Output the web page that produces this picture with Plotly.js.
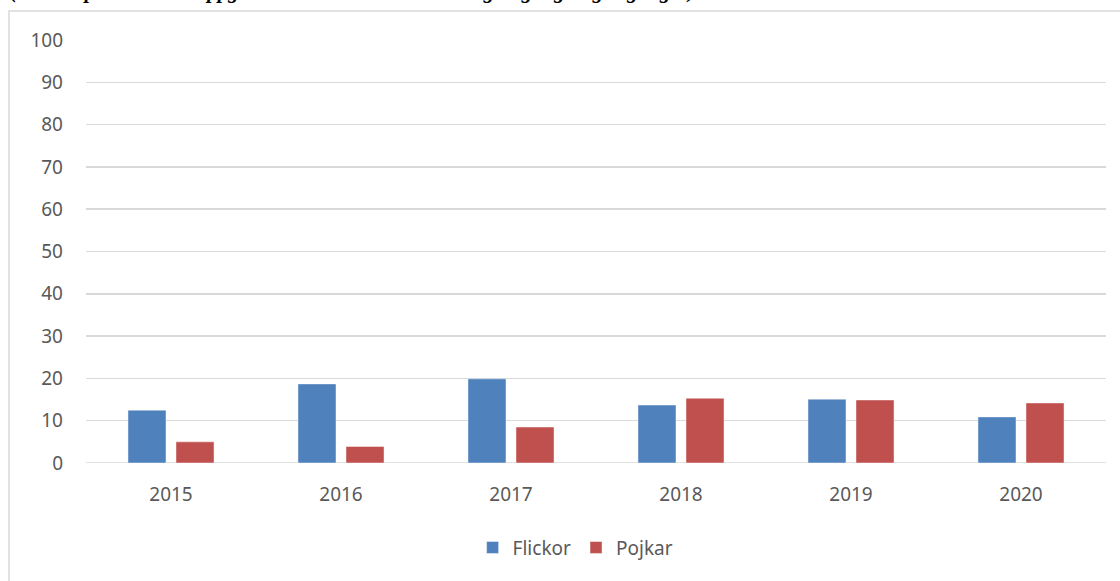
<!DOCTYPE html>
<html>
<head>
<meta charset="utf-8">
<script src="https://cdn.plot.ly/plotly-3.0.1.min.js"></script>
<style>
html,body{margin:0;padding:0;background:#fff;overflow:hidden;}
#chart{width:1120px;height:581px;}
</style>
</head>
<body>
<div id="chart"></div>
<script>
const years = ['2015','2016','2017','2018','2019','2020'];
const flickor = [12.5, 18.7, 19.9, 13.7, 15.1, 10.9];
const pojkar = [5.0, 3.9, 8.5, 15.3, 14.9, 14.2];
const yTicks = [0,10,20,30,40,50,60,70,80,90,100];
const headerText = '(Andel i procent som uppger att de har blivit utsatta någon gång/några gånger)';

const fam = 'Noto Sans, Liberation Sans, sans-serif';
const grey = '#595959';

const traces = [
  {type:'bar', name:'Flickor', x: years, y: flickor,
   marker:{color:'#4F81BD', line:{color:'rgba(255,255,255,0.45)', width:1}}, hoverinfo:'none'},
  {type:'bar', name:'Pojkar', x: years, y: pojkar,
   marker:{color:'#C0504D', line:{color:'rgba(255,255,255,0.45)', width:1}}, hoverinfo:'none'}
];

const layout = {
  width:1120, height:581,
  margin:{l:86, r:14, t:40, b:118},
  paper_bgcolor:'#fff', plot_bgcolor:'#fff',
  font:{family:fam, size:19, color:grey},
  barmode:'group', bargap:0.435, bargroupgap:0.208,
  showlegend:true,
  legend:{orientation:'h', x:0.48, y:-0.2, xanchor:'center', yanchor:'middle',
          font:{family:fam, size:19, color:grey}, itemwidth:30, traceorder:'normal'},
  xaxis:{type:'category', showgrid:false, zeroline:false, showline:false, ticks:'',
         ticklabelstandoff:18, tickfont:{family:fam, size:19, color:grey}},
  yaxis:{range:[0,100], tickvals:yTicks, ticktext:yTicks.map(String), showgrid:true,
         gridcolor:'#D9D9D9', gridwidth:1.5, zeroline:false, showline:false, ticks:'',
         ticklabelstandoff:22, tickfont:{family:fam, size:19, color:grey}},
  shapes:[
    {type:'rect', xref:'paper', yref:'paper', x0:(9-86)/1020, x1:1.2, y0:-0.4, y1:(463-11)/423,
     line:{color:'#D9D9D9', width:1.5}, fillcolor:'rgba(0,0,0,0)', layer:'below'},
    {type:'line', xref:'paper', yref:'y', x0:0, x1:1, y0:0, y1:0, line:{color:'#D9D9D9', width:1.5}, layer:'below'}
  ],
  annotations:[
    {xref:'paper', yref:'paper', x:(8-86)/1020, y:(463-5)/423, xanchor:'left', yanchor:'bottom',
     text:'<b><i>'+headerText+'</i></b>', showarrow:false,
     font:{family:'Liberation Serif, Times New Roman, serif', size:21, color:'#000'}}
  ]
};

Plotly.newPlot('chart', traces, layout, {displayModeBar:false, staticPlot:true});
</script>
</body>
</html>
